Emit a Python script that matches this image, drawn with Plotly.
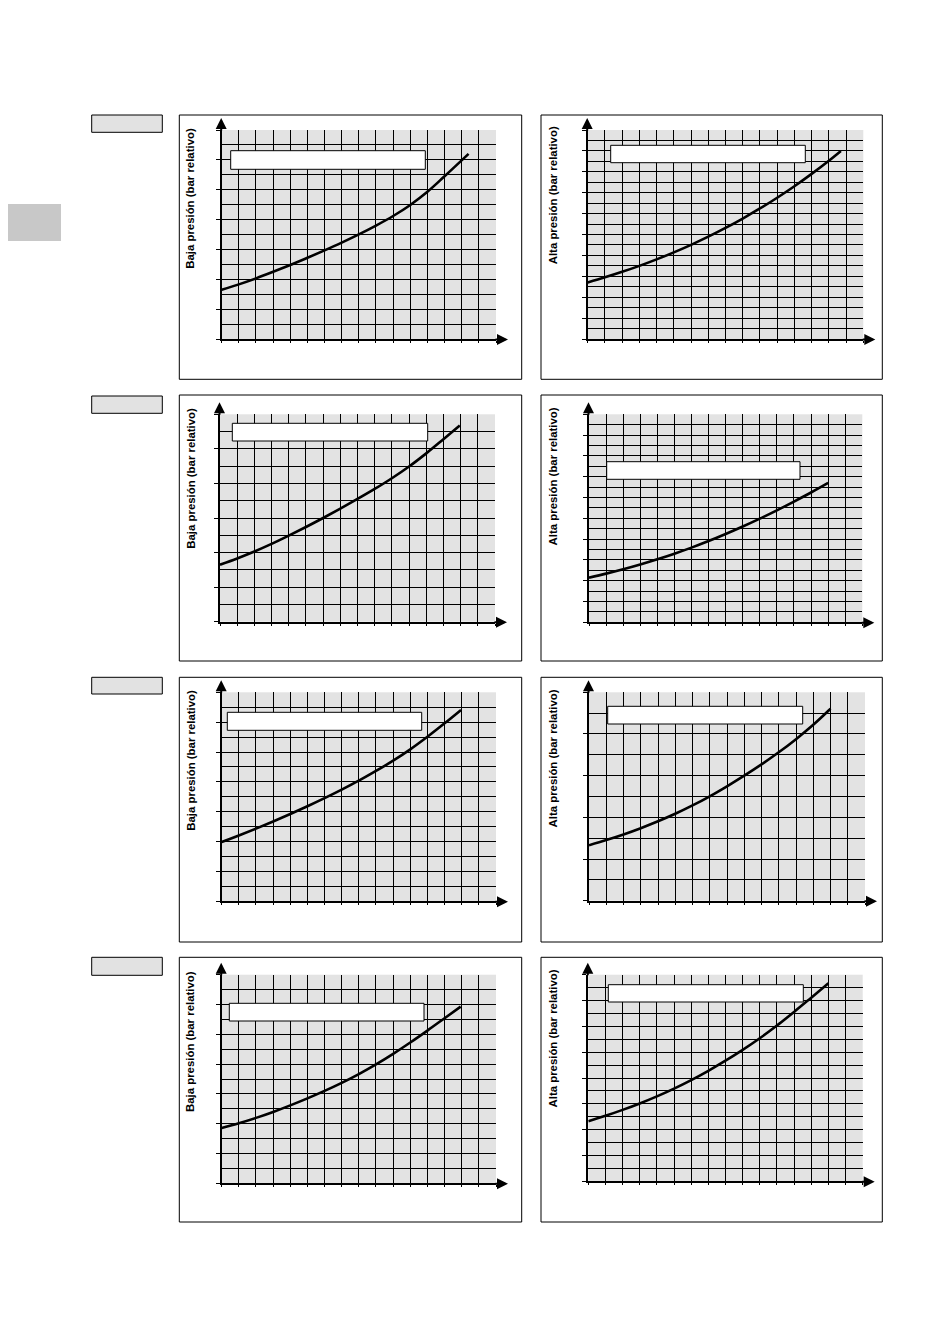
import plotly.graph_objects as go

PAGE_W, PAGE_H = 950, 1344
BODY_OFF = 8  # default page margin around the plot div
W, H = PAGE_W - BODY_OFF, PAGE_H - BODY_OFF

# ---------------- data (grid units: columns on x, rows on y) ----------------
y_title_baja = "Baja presión (bar relativo)"
y_title_alta = "Alta presión (bar relativo)"

p1_x = [0, 1, 2, 3, 4, 5, 6, 7, 8, 9, 10, 11, 12, 13, 14.4]
p1_y = [3.3, 3.66, 4.06, 4.5, 4.96, 5.44, 5.94, 6.46, 7.01, 7.6, 8.24, 8.98, 9.86, 10.9, 12.4]

p2_x = [0, 1, 2, 3, 4, 5, 6, 7, 8, 9, 10, 11, 12, 13, 14, 14.7]
p2_y = [5.4, 5.9, 6.43, 7.0, 7.62, 8.29, 9.01, 9.79, 10.63, 11.53, 12.49, 13.52, 14.62, 15.8, 17.06, 18.0]

p3_x = [0, 1, 2, 3, 4, 5, 6, 7, 8, 9, 10, 11, 12, 13, 13.95]
p3_y = [3.3, 3.66, 4.06, 4.5, 4.98, 5.48, 6.0, 6.54, 7.1, 7.68, 8.3, 8.98, 9.74, 10.56, 11.35]

p4_x = [0, 1, 2, 3, 4, 5, 6, 7, 8, 9, 10, 11, 12, 13, 14]
p4_y = [4.29, 4.68, 5.1, 5.56, 6.06, 6.6, 7.18, 7.81, 8.49, 9.21, 9.97, 10.77, 11.61, 12.48, 13.4]

p5_x = [0, 1, 2, 3, 4, 5, 6, 7, 8, 9, 10, 11, 12, 13, 13.96]
p5_y = [3.97, 4.41, 4.87, 5.35, 5.85, 6.37, 6.91, 7.48, 8.08, 8.73, 9.42, 10.18, 11.02, 11.92, 12.82]

p6_x = [0, 1, 2, 3, 4, 5, 6, 7, 8, 9, 10, 11, 12, 13, 14]
p6_y = [2.66, 2.91, 3.18, 3.48, 3.81, 4.17, 4.57, 5.01, 5.49, 6.0, 6.54, 7.12, 7.75, 8.44, 9.21]

p7_x = [0, 1, 2, 3, 4, 5, 6, 7, 8, 9, 10, 11, 12, 13, 13.94]
p7_y = [3.71, 4.03, 4.39, 4.79, 5.23, 5.7, 6.2, 6.74, 7.33, 7.98, 8.69, 9.45, 10.25, 11.08, 11.86]

p8_x = [0, 1, 2, 3, 4, 5, 6, 7, 8, 9, 10, 11, 12, 13, 14]
p8_y = [4.65, 5.07, 5.53, 6.03, 6.58, 7.18, 7.84, 8.56, 9.34, 10.18, 11.08, 12.06, 13.12, 14.22, 15.33]

grid_cols = [16, 16, 16, 16, 16, 16, 16, 16]
grid_rows = [14, 20, 12, 20, 14, 10, 14, 16]
curves_x = [p1_x, p2_x, p3_x, p4_x, p5_x, p6_x, p7_x, p8_x]
curves_y = [p1_y, p2_y, p3_y, p4_y, p5_y, p6_y, p7_y, p8_y]
titles = [y_title_baja, y_title_alta] * 4

# ---------------- layout geometry (page pixels) ----------------
grid_px = [  # x0, x1, y0(top), y1(bottom)
    (221.7, 496.0, 130.0, 339.0),
    (587.7, 863.3, 130.0, 339.0),
    (220.0, 495.0, 414.3, 621.7),
    (589.0, 862.3, 414.3, 622.3),
    (221.7, 496.0, 692.3, 901.3),
    (589.0, 865.0, 692.3, 900.7),
    (221.7, 496.0, 974.7, 1183.3),
    (588.3, 862.7, 974.7, 1181.3),
]
label_px = [
    (230.7, 425.3, 150.7, 169.3),
    (610.7, 805.3, 145.3, 162.7),
    (232.3, 427.7, 423.3, 441.0),
    (606.7, 800.0, 461.7, 479.3),
    (227.3, 421.7, 712.3, 730.3),
    (607.7, 802.7, 706.3, 724.0),
    (229.3, 424.0, 1003.3, 1021.0),
    (608.3, 803.3, 984.7, 1002.0),
]
title_px = [(190.5, 198.3), (552.5, 195.8), (190.7, 478.0), (552.7, 476.7),
            (190.7, 760.0), (552.7, 758.8), (190.7, 1041.3), (552.7, 1038.8)]
frame_rows = [(115.0, 379.3), (395.0, 661.0), (677.3, 942.0), (957.3, 1222.0)]
frame_cols = [(179.3, 521.7), (541.0, 882.3)]
tag_rows = [(115.0, 132.3), (396.0, 413.3), (677.3, 694.0), (957.3, 975.3)]


def px(x):
    return (x - BODY_OFF) / W


def py(y):
    return 1 - (y - BODY_OFF) / H


fig = go.Figure()
layout = {}
shapes = []
annotations = []

for i in range(8):
    n = i + 1
    sx = "" if n == 1 else str(n)
    gx0, gx1, gy0, gy1 = grid_px[i]
    fig.add_trace(go.Scatter(
        x=curves_x[i], y=curves_y[i], mode="lines",
        line=dict(color="black", width=2.6, shape="spline", smoothing=1.0),
        xaxis="x" + sx, yaxis="y" + sx, showlegend=False, hoverinfo="skip"))
    layout["xaxis" + sx] = dict(
        domain=[px(gx0), px(gx1)], range=[0, grid_cols[i]], anchor="y" + sx,
        dtick=1, tick0=0, showticklabels=False, ticks="outside", ticklen=2,
        tickcolor="black", tickwidth=1,
        showgrid=True, gridcolor="black", gridwidth=1, zeroline=False,
        showline=True, linecolor="black", linewidth=2, fixedrange=True)
    layout["yaxis" + sx] = dict(
        domain=[py(gy1), py(gy0)], range=[0, grid_rows[i]], anchor="x" + sx,
        dtick=2, tick0=0, showticklabels=False, ticks="outside", ticklen=4,
        tickcolor="black", tickwidth=1,
        showgrid=True, gridcolor="black", gridwidth=1, zeroline=False,
        minor=dict(dtick=1, tick0=0, showgrid=True, gridcolor="black", gridwidth=1, ticks=""),
        showline=True, linecolor="black", linewidth=2, fixedrange=True)
    # arrows on axes
    annotations.append(dict(
        xref="paper", yref="paper", x=px(gx0 - 0.5), y=py(gy0 - 12), text="",
        showarrow=True, ax=0, ay=14, arrowhead=2, arrowsize=1.1, arrowwidth=2,
        arrowcolor="black", standoff=0))
    annotations.append(dict(
        xref="paper", yref="paper", x=px(gx1 + 12), y=py(gy1 + 0.5), text="",
        showarrow=True, ax=-14, ay=0, arrowhead=2, arrowsize=1.1, arrowwidth=2,
        arrowcolor="black", standoff=0))
    # white label box
    lx0, lx1, ly0, ly1 = label_px[i]
    shapes.append(dict(type="rect", xref="paper", yref="paper",
                       x0=px(lx0), x1=px(lx1), y0=py(ly1), y1=py(ly0),
                       fillcolor="white", line=dict(color="black", width=1), layer="above"))
    # y-axis title
    tx, ty = title_px[i]
    annotations.append(dict(
        xref="paper", yref="paper", x=px(tx), y=py(ty), text="<b>" + titles[i] + "</b>",
        showarrow=False, textangle=-90, xanchor="center", yanchor="middle",
        font=dict(family="Liberation Sans, Arial, sans-serif", size=11.4, color="black")))

# outer frames
for (fy0, fy1) in frame_rows:
    for (fx0, fx1) in frame_cols:
        shapes.append(dict(type="rect", xref="paper", yref="paper",
                           x0=px(fx0), x1=px(fx1), y0=py(fy1), y1=py(fy0),
                           fillcolor="rgba(0,0,0,0)", line=dict(color="black", width=1),
                           layer="below"))
# small grey tags on left
for (ty0, ty1) in tag_rows:
    shapes.append(dict(type="rect", xref="paper", yref="paper",
                       x0=px(91.7), x1=px(162.3), y0=py(ty1), y1=py(ty0),
                       fillcolor="#e2e2e2", line=dict(color="black", width=1), layer="below"))
# side tab (starts at the page edge)
shapes.append(dict(type="rect", xref="paper", yref="paper",
                   x0=px(0), x1=px(61), y0=py(241), y1=py(204),
                   fillcolor="#c8c8c8", line=dict(width=0), layer="below"))

fig.update_layout(
    width=W, height=H, margin=dict(l=0, r=0, t=0, b=0),
    paper_bgcolor="white", plot_bgcolor="#e3e3e3",
    shapes=shapes, annotations=annotations, showlegend=False,
    font=dict(family="Liberation Sans, Arial, sans-serif"),
    **layout)

fig.write_html("out.html", config={"displayModeBar": False})
